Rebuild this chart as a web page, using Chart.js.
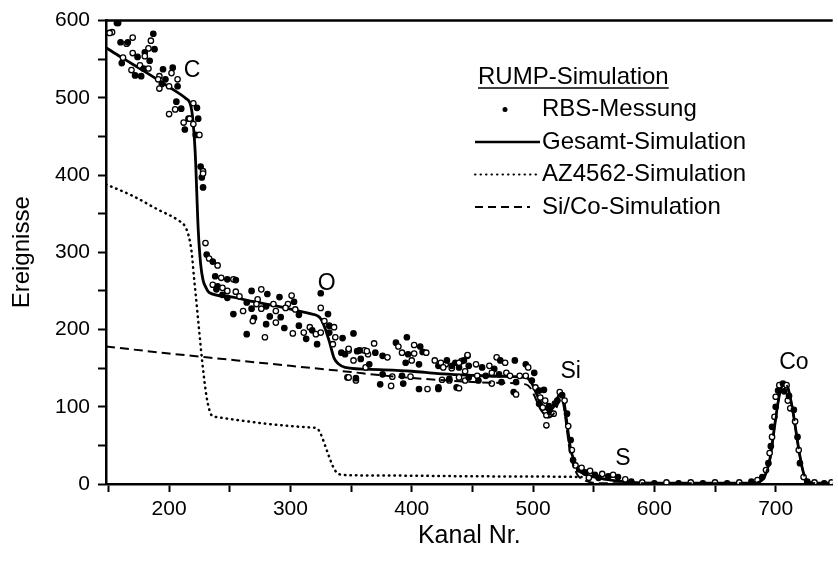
<!DOCTYPE html>
<html lang="de">
<head>
<meta charset="utf-8">
<title>RUMP-Simulation</title>
<script src="https://cdn.jsdelivr.net/npm/chart.js@4.4.1/dist/chart.umd.min.js"></script>
<style>
  html, body { margin: 0; padding: 0; background: #fff; }
  #wrap { width: 838px; height: 563px; }
</style>
</head>
<body>
<div id="wrap"><canvas id="rbsChart" width="838" height="563"></canvas></div>
<script>
// Tick values (labels only on the hundreds)
const xTicks = [150, 200, 250, 300, 350, 400, 450, 500, 550, 600, 650, 700];
const yTicks = [0, 50, 100, 150, 200, 250, 300, 350, 400, 450, 500, 550, 600];

// RBS-Messung (measured points)
const measX = [
  157, 153, 160, 165, 166, 170, 187, 185, 188, 183, 180, 170, 174, 180, 184, 162, 161, 169, 172, 176,
  179, 183, 177, 192, 195, 202, 203, 191, 197, 207, 194, 200, 207, 192, 206, 220, 223, 205, 210, 200,
  216, 217, 224, 212, 213, 220, 222, 225, 226, 228, 227, 228, 228, 151, 158,
  230, 231, 233, 236, 240, 238, 243, 248, 253, 255, 236, 240, 244, 239, 248, 244, 255, 248, 258, 268,
  276, 281, 273, 291, 301, 303, 298, 264, 272, 280, 286, 253, 261, 268, 276, 283, 288, 292, 296, 307,
  304, 270, 269, 280, 288, 295, 302, 264, 279, 307, 311, 313, 316, 318, 321, 322, 325, 325, 325, 331,
  328, 332, 336, 332, 337, 343, 335, 352, 369, 342, 348, 355, 361, 345, 352, 358, 364, 370, 362, 347,
  354, 365,
  348, 357, 363, 376, 380, 387, 389, 396, 402, 407, 392, 397, 402, 409, 412, 395, 400, 406, 419, 422,
  428, 436, 441, 446, 433, 439, 444, 376, 384, 392, 399, 406, 413, 422, 431, 437, 444, 374, 383, 393,
  348, 354,
  424, 429, 426, 433, 439, 443, 446, 447, 453, 458, 464, 468, 470, 473, 477, 485, 478, 472, 466, 461,
  454, 447, 439, 431, 425, 422, 439, 455, 466, 474, 481, 486, 489, 484, 486, 494, 496, 501, 494, 499,
  502, 505, 506, 509, 510, 505, 508, 513, 511, 514, 517, 518, 511, 520, 522, 524, 526, 528, 529, 531,
  532, 533, 535, 538, 540, 543, 547, 551, 557, 562, 566, 570, 546, 554, 576, 581,
  590, 600, 610, 620, 630, 640, 650, 660, 670, 680,
  685, 689, 692, 694, 695, 696, 697, 697, 699, 700, 700, 702, 703, 706, 709, 707, 710, 711, 712, 715,
  716, 718, 719, 720, 723, 726, 732, 740, 746
];
const measY = [
  597, 585, 572, 570, 572, 578, 583, 574, 563, 564, 559, 558, 553, 554, 548, 552, 545, 536, 529, 542,
  538, 538, 528, 528, 537, 532, 539, 524, 524, 524, 518, 515, 515, 512, 495, 493, 487, 485, 486, 479,
  473, 473, 473, 468, 459, 466, 452, 452, 411, 405, 397, 402, 384, 584, 597,
  312, 297, 292, 288, 283, 269, 267, 265, 265, 264, 258, 256, 254, 252, 250, 245, 249, 241, 243, 250,
  252, 246, 239, 242, 244, 236, 233, 235, 233, 230, 233, 220, 224, 227, 227, 217, 224, 216, 228, 219,
  226, 215, 211, 207, 209, 202, 195, 194, 190, 205, 196, 188, 203, 199, 194, 181, 196, 247, 228, 220,
  211, 205, 203, 196, 190, 189, 181, 195, 182, 170, 173, 172, 173, 168, 160, 162, 168, 170, 151, 138,
  134, 155,
  175, 173, 172, 166, 164, 183, 178, 190, 180, 178, 170, 168, 169, 171, 170, 157, 160, 155, 160, 153,
  155, 157, 159, 166, 150, 151, 146, 142, 139, 140, 139, 123, 123, 125, 134, 125, 134, 129, 127, 130,
  138, 137,
  157, 160, 151, 153, 157, 160, 167, 153, 155, 151, 153, 149, 164, 160, 157, 160, 144, 142, 144, 140,
  140, 138, 138, 136, 135, 123, 124, 134, 130, 132, 140, 132, 140, 119, 116, 155, 151, 144, 140, 134,
  125, 121, 112, 122, 108, 104, 99, 101, 89, 93, 91, 104, 76, 108, 119, 115, 108, 91, 75, 57,
  44, 31, 24, 19, 21, 15, 17, 12, 13, 10, 12, 9, 8, 8, 6, 3,
  2, 1, 2, 1, 2, 1, 2, 1, 2, 3,
  5, 9, 18, 27, 40, 49, 61, 74, 87, 100, 113, 121, 128, 130, 128, 120, 108, 114, 98, 96,
  81, 61, 44, 27, 9, 3, 2, 1, 2
];

// Gesamt-Simulation (solid)
const totalX = [148, 160, 180, 200, 214, 217, 219, 221.5, 224, 226, 228, 230.5, 233, 250, 270, 290, 310, 318, 322,
  325, 328, 332, 336, 340, 345, 373, 400, 422, 447, 470, 494, 498, 502, 506, 510, 513, 517, 521, 523, 525,
  527, 529, 531, 534, 537, 542, 548, 554, 560, 570, 581, 600, 650, 680, 688, 692, 695.6, 698, 700, 702,
  704, 707, 710, 712, 714, 716, 718, 720, 722, 724, 728, 735, 747];
const totalY = [565, 553, 534, 514, 499, 494, 480, 430, 330, 285, 264, 254, 248, 242.5, 236, 230, 223, 220, 218,
  214, 204, 185, 163, 155, 151, 148, 146, 143, 141, 139.5, 138, 133, 120, 106, 98, 95, 100, 114, 119, 112,
  90, 66, 45, 30, 19, 13, 10, 8, 6, 4, 2, 1, 1, 1, 4, 14, 35, 62, 85, 106,
  122, 129, 125, 112, 96, 76, 55, 36, 20, 9, 2, 1, 1];

// AZ4562-Simulation (dotted)
const resistX = [148, 170, 190, 208, 213, 216, 218.6, 220.5, 222.7, 225, 227, 229, 231, 233, 235, 238, 242, 260,
  280, 300, 318, 322, 324, 326, 329, 332, 335, 338, 342, 346, 380, 450, 520, 540];
const resistY = [388, 373, 356, 341, 334, 322, 300, 268, 233, 195, 163, 135, 112, 97, 89, 87, 86, 82,
  78, 75, 73, 72, 68, 61, 48, 35, 23, 15, 12, 11.5, 11, 10, 9.5, 9];

// Si/Co-Simulation (dashed)
const substrX = [148, 200, 250, 300, 350, 373, 420, 470, 494, 498, 502, 506, 510, 513, 517, 521, 523, 525, 527,
  529, 531, 534, 537, 542, 548, 560, 581, 600, 650, 680, 688, 692, 695.6, 698, 700, 702, 704, 707, 710,
  712, 714, 716, 718, 720, 722, 724, 728, 735, 747];
const substrY = [178, 169, 161, 153, 145, 141, 135, 131, 129, 124, 111, 97, 89, 86, 91, 105, 110, 103, 81,
  57, 36, 21, 11, 5, 2, 1, 1, 1, 1, 1, 4, 14, 35, 62, 85, 106, 122, 129, 125,
  112, 96, 76, 55, 36, 20, 9, 2, 1, 1];

// Element labels at the edges
const peakLabels = ['C', 'O', 'Si', 'S', 'Co'];
const peakLabelX = [219, 330, 531, 574, 715];
const peakLabelY = [535, 260, 145, 33, 157];

const legendTitle = 'RUMP-Simulation';
const legendItems = ['RBS-Messung', 'Gesamt-Simulation', 'AZ4562-Simulation', 'Si/Co-Simulation'];

const FONT = "'Liberation Sans', Arial, Helvetica, sans-serif";

function toPoints(xs, ys) {
    return xs.map((x, i) => ({ x, y: ys[i] }));
}

// Frame top line, element labels and the hand-made legend
const overlayPlugin = {
    id: 'overlay',
    afterDraw(chart) {
        const { ctx, chartArea, scales } = chart;
        ctx.save();

        // top frame line
        ctx.strokeStyle = '#000';
        ctx.lineWidth = 2.5;
        ctx.beginPath();
        ctx.moveTo(chartArea.left, chartArea.top);
        ctx.lineTo(chartArea.right, chartArea.top);
        ctx.stroke();

        // element labels
        ctx.fillStyle = '#000';
        ctx.font = `23px ${FONT}`;
        ctx.textAlign = 'center';
        ctx.textBaseline = 'middle';
        peakLabels.forEach((t, i) => {
            ctx.fillText(t, scales.x.getPixelForValue(peakLabelX[i]), scales.y.getPixelForValue(peakLabelY[i]));
        });

        // legend
        const lx = 475, tx = 542, rowH = 32.5, y0 = 77;
        ctx.textAlign = 'left';
        ctx.font = `24px ${FONT}`;
        ctx.fillText(legendTitle, 478, y0);
        const w = ctx.measureText(legendTitle).width;
        ctx.lineWidth = 1.5;
        ctx.beginPath();
        ctx.moveTo(478, y0 + 11);
        ctx.lineTo(478 + w, y0 + 11);
        ctx.stroke();

        legendItems.forEach((t, i) => {
            const y = y0 + rowH * (i + 1);
            ctx.fillText(t, tx, y);
            ctx.beginPath();
            if (i === 0) {
                ctx.arc(505, y, 2.5, 0, Math.PI * 2);
                ctx.fill();
                return;
            }
            ctx.lineWidth = i === 1 ? 2.5 : 2;
            ctx.lineCap = i === 2 ? 'round' : 'butt';
            ctx.setLineDash(i === 1 ? [] : i === 2 ? [0.5, 5] : [8, 5]);
            ctx.moveTo(lx, y);
            ctx.lineTo(i === 3 ? 530 : 540, y);
            ctx.stroke();
            ctx.setLineDash([]);
        });

        ctx.restore();
    }
};

const ctx = document.getElementById('rbsChart').getContext('2d');
new Chart(ctx, {
    type: 'scatter',
    data: {
        datasets: [
            {
                label: 'AZ4562-Simulation',
                data: toPoints(resistX, resistY),
                showLine: true,
                borderColor: '#000',
                borderWidth: 2.5,
                borderDash: [0.5, 5],
                borderCapStyle: 'round',
                pointRadius: 0,
                cubicInterpolationMode: 'monotone'
            },
            {
                label: 'Si/Co-Simulation',
                data: toPoints(substrX, substrY),
                showLine: true,
                borderColor: '#000',
                borderWidth: 2,
                borderDash: [9, 5],
                pointRadius: 0,
                cubicInterpolationMode: 'monotone'
            },
            {
                label: 'RBS-Messung',
                data: toPoints(measX, measY),
                pointRadius: 2.7,
                pointBorderWidth: 1.3,
                pointBorderColor: '#000',
                pointBackgroundColor: (c) => c.dataIndex % 2 ? '#fff' : '#000'
            },
            {
                label: 'Gesamt-Simulation',
                data: toPoints(totalX, totalY),
                showLine: true,
                borderColor: '#000',
                borderWidth: 2.8,
                pointRadius: 0,
                cubicInterpolationMode: 'monotone'
            }
        ]
    },
    options: {
        responsive: false,
        animation: false,
        devicePixelRatio: 1,
        layout: { padding: { top: 18, right: 0, left: 0, bottom: 0 } },
        plugins: {
            legend: { display: false },
            tooltip: { enabled: false }
        },
        scales: {
            x: {
                type: 'linear',
                min: 148,
                max: 747,
                afterFit: (s) => { s.height = 79; },
                afterBuildTicks: (s) => { s.ticks = xTicks.map(v => ({ value: v })); },
                ticks: {
                    autoSkip: false,
                    maxRotation: 0,
                    padding: 5,
                    color: '#000',
                    font: { family: FONT, size: 21 },
                    callback: (v) => v % 100 === 0 ? v : ''
                },
                grid: { drawOnChartArea: false, drawTicks: true, tickLength: 8, tickWidth: 2, tickColor: '#000' },
                border: { display: true, width: 2.5, color: '#000' },
                title: {
                    display: true,
                    text: 'Kanal Nr.',
                    color: '#000',
                    font: { family: FONT, size: 25 },
                    padding: { top: 4, bottom: 12 }
                }
            },
            y: {
                min: 0,
                max: 600,
                afterFit: (s) => { s.width = 106; },
                afterBuildTicks: (s) => { s.ticks = yTicks.map(v => ({ value: v })); },
                ticks: {
                    autoSkip: false,
                    padding: 8,
                    color: '#000',
                    font: { family: FONT, size: 21 },
                    callback: (v) => v % 100 === 0 ? v : ''
                },
                grid: { drawOnChartArea: false, drawTicks: true, tickLength: 8, tickWidth: 2, tickColor: '#000' },
                border: { display: true, width: 2.5, color: '#000' },
                title: {
                    display: true,
                    text: 'Ereignisse',
                    color: '#000',
                    font: { family: FONT, size: 24 },
                    padding: { top: 8, bottom: 0 }
                }
            }
        }
    },
    plugins: [overlayPlugin]
});
</script>
</body>
</html>
